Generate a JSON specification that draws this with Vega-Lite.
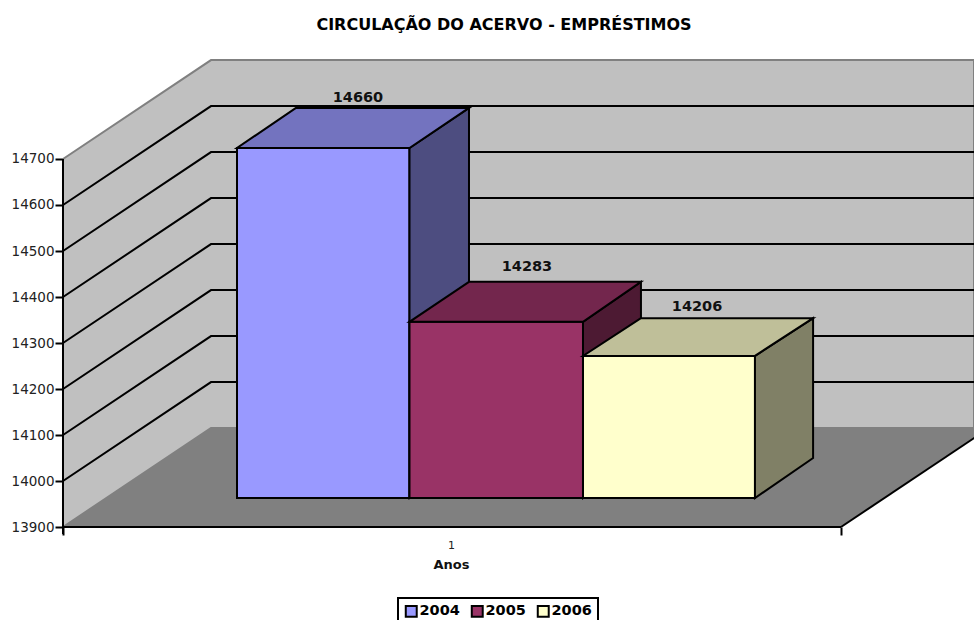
{
"$schema":"https://vega.github.io/schema/vega-lite/v6.json",
"width":974,"height":620,"padding":0,"autosize":{"type":"none"},
"background":"white",
"title":{"text":"CIRCULAÇÃO DO ACERVO - EMPRÉSTIMOS","font":"DejaVu Sans","fontSize":16,"fontWeight":"bold","color":"#000000","anchor":"middle","offset":0,"dx":17,"dy":33},
"datasets":{
"walls":[
{"face":"wall","x":-1.0058,"y":14700,"y2":13900},
{"face":"wall","x":-0.1503,"y":14915,"y2":14115},
{"face":"wall","x":4.2601,"y":14915,"y2":14115}
],
"floor":[
{"face":"floor","y":13900,"x":-1.0058,"x2":3.4913},
{"face":"floor","y":14115,"x":-0.1503,"x2":4.3468}
],
"grid":[
{"g":"a14000","x":-1.0058,"y":14000},{"g":"a14000","x":-0.1503,"y":14215},{"g":"a14000","x":4.2601,"y":14215},
{"g":"a14100","x":-1.0058,"y":14100},{"g":"a14100","x":-0.1503,"y":14315},{"g":"a14100","x":4.2601,"y":14315},
{"g":"a14200","x":-1.0058,"y":14200},{"g":"a14200","x":-0.1503,"y":14415},{"g":"a14200","x":4.2601,"y":14415},
{"g":"a14300","x":-1.0058,"y":14300},{"g":"a14300","x":-0.1503,"y":14515},{"g":"a14300","x":4.2601,"y":14515},
{"g":"a14400","x":-1.0058,"y":14400},{"g":"a14400","x":-0.1503,"y":14615},{"g":"a14400","x":4.2601,"y":14615},
{"g":"a14500","x":-1.0058,"y":14500},{"g":"a14500","x":-0.1503,"y":14715},{"g":"a14500","x":4.2601,"y":14715},
{"g":"a14600","x":-1.0058,"y":14600},{"g":"a14600","x":-0.1503,"y":14815},{"g":"a14600","x":4.2601,"y":14815}
],
"frame":[
{"x":-1.0058,"x2":-1.0058,"y":14700,"y2":13885},
{"x":-1.0058,"x2":3.4913,"y":13900,"y2":13900},
{"x":3.4913,"x2":4.3468,"y":13900,"y2":14115}
],
"sides":[
{"face":"2004","x":0,"y":14724,"y2":13963},{"face":"2004","x":0.9971,"y":14724,"y2":13963},
{"face":"2004 side","x":0.9971,"y":14724,"y2":13963},{"face":"2004 side","x":1.341,"y":14811,"y2":14050},
{"face":"2005","x":0.9971,"y":14346,"y2":13963},{"face":"2005","x":2,"y":14346,"y2":13963},
{"face":"2005 side","x":2,"y":14346,"y2":13963},{"face":"2005 side","x":2.335,"y":14433,"y2":14050},
{"face":"2006","x":2,"y":14272,"y2":13963},{"face":"2006","x":2.994,"y":14272,"y2":13963},
{"face":"2006 side","x":2.994,"y":14272,"y2":13963},{"face":"2006 side","x":3.33,"y":14354,"y2":14050}
],
"tops":[
{"face":"2004 top","y":14724,"x":0,"x2":0.9971},{"face":"2004 top","y":14811,"x":0.341,"x2":1.341},
{"face":"2005 top","y":14346,"x":0.9971,"x2":2},{"face":"2005 top","y":14433,"x":1.341,"x2":2.335},
{"face":"2006 top","y":14272,"x":2,"x2":2.994},{"face":"2006 top","y":14354,"x":2.335,"x2":3.33}
],
"labels":[
{"year":"2004","value":14660,"x":0.699,"y":14833},
{"year":"2005","value":14283,"x":1.676,"y":14465},
{"year":"2006","value":14206,"x":2.659,"y":14378}
]
},
"encoding":{
"color":{"field":"face","type":"nominal",
"scale":{"domain":["2004","2005","2006","2004 side","2005 side","2006 side","2004 top","2005 top","2006 top","wall","floor"],
"range":["#9999FF","#993366","#FFFFCC","#4D4D80","#4D1A33","#808066","#7373BF","#73264D","#BFBF99","#C0C0C0","#808080"]},
"legend":{"orient":"none","legendX":398,"legendY":598,"direction":"horizontal","columns":3,"values":["2004","2005","2006"],"title":null,"symbolType":"square","symbolSize":120,"symbolStrokeColor":"#000000","symbolStrokeWidth":2,"labelFont":"DejaVu Sans","labelFontSize":14.5,"labelFontWeight":"bold","labelColor":"#000000","labelOffset":1,"columnPadding":7,"strokeColor":"#000000","fillColor":"#FFFFFF","padding":6}}
},
"layer":[
{"data":{"name":"walls"},"mark":{"type":"area","orient":"vertical","stroke":"#808080","strokeWidth":2,"clip":true},
"encoding":{
"x":{"field":"x","type":"quantitative","scale":{"domain":[-1.36994,4.26012],"nice":false,"zero":false},
"axis":{"orient":"bottom","offset":-93,"values":[-1.0058,1.237,3.4913],"domain":false,"grid":false,"tickSize":8,"tickWidth":2,"tickColor":"#000000",
"tickOpacity":{"condition":{"test":"datum.value>1 && datum.value<2","value":0},"value":1},
"labelExpr":"datum.value>1 && datum.value<2 ? '1' : ''","labelFont":"DejaVu Sans","labelFontSize":11,"labelColor":"#222222","labelPadding":4,"labelFlush":false,"labelOverlap":false,
"title":"Anos","titleFont":"DejaVu Sans","titleFontSize":13,"titleFontWeight":"bold","titleColor":"#111111","titleX":451,"titleY":41,"titleAnchor":"middle","titleBaseline":"alphabetic"}},
"y":{"field":"y","type":"quantitative","stack":null,"scale":{"domain":[13697.83,15045.65],"nice":false,"zero":false},
"axis":{"orient":"left","offset":-63,"values":[13900,14000,14100,14200,14300,14400,14500,14600,14700],"domain":false,"grid":false,"tickSize":8,"tickWidth":2,"tickColor":"#000000","format":"d","labelFont":"DejaVu Sans","labelFontSize":13.5,"labelColor":"#222222","labelPadding":1,"title":null}},
"y2":{"field":"y2"}}},
{"data":{"name":"floor"},"mark":{"type":"area","orient":"horizontal","clip":true},
"encoding":{"y":{"field":"y","type":"quantitative","stack":null},"x":{"field":"x","type":"quantitative","stack":null},"x2":{"field":"x2"}}},
{"data":{"name":"grid"},"mark":{"type":"line","strokeWidth":2,"clip":true},
"encoding":{"color":{"value":"#000000"},"detail":{"field":"g"},"order":{"field":"x"},"x":{"field":"x","type":"quantitative"},"y":{"field":"y","type":"quantitative"}}},
{"data":{"name":"frame"},"mark":{"type":"rule","strokeWidth":2,"clip":true},
"encoding":{"color":{"value":"#000000"},"x":{"field":"x","type":"quantitative"},"x2":{"field":"x2"},"y":{"field":"y","type":"quantitative"},"y2":{"field":"y2"}}},
{"data":{"name":"sides"},"mark":{"type":"area","orient":"vertical","stroke":"#000000","strokeWidth":2},
"encoding":{"x":{"field":"x","type":"quantitative"},"y":{"field":"y","type":"quantitative","stack":null},"y2":{"field":"y2"}}},
{"data":{"name":"tops"},"mark":{"type":"area","orient":"horizontal","stroke":"#000000","strokeWidth":2},
"encoding":{"y":{"field":"y","type":"quantitative","stack":null},"x":{"field":"x","type":"quantitative","stack":null},"x2":{"field":"x2"}}},
{"data":{"name":"labels"},"mark":{"type":"text","font":"DejaVu Sans","fontSize":14.5,"fontWeight":"bold","baseline":"middle","align":"center"},
"encoding":{"color":{"value":"#111111"},"text":{"field":"value","type":"quantitative","format":"d"},"x":{"field":"x","type":"quantitative"},"y":{"field":"y","type":"quantitative"}}}
],
"config":{"view":{"stroke":null},"legend":{"strokeWidth":2}}
}
